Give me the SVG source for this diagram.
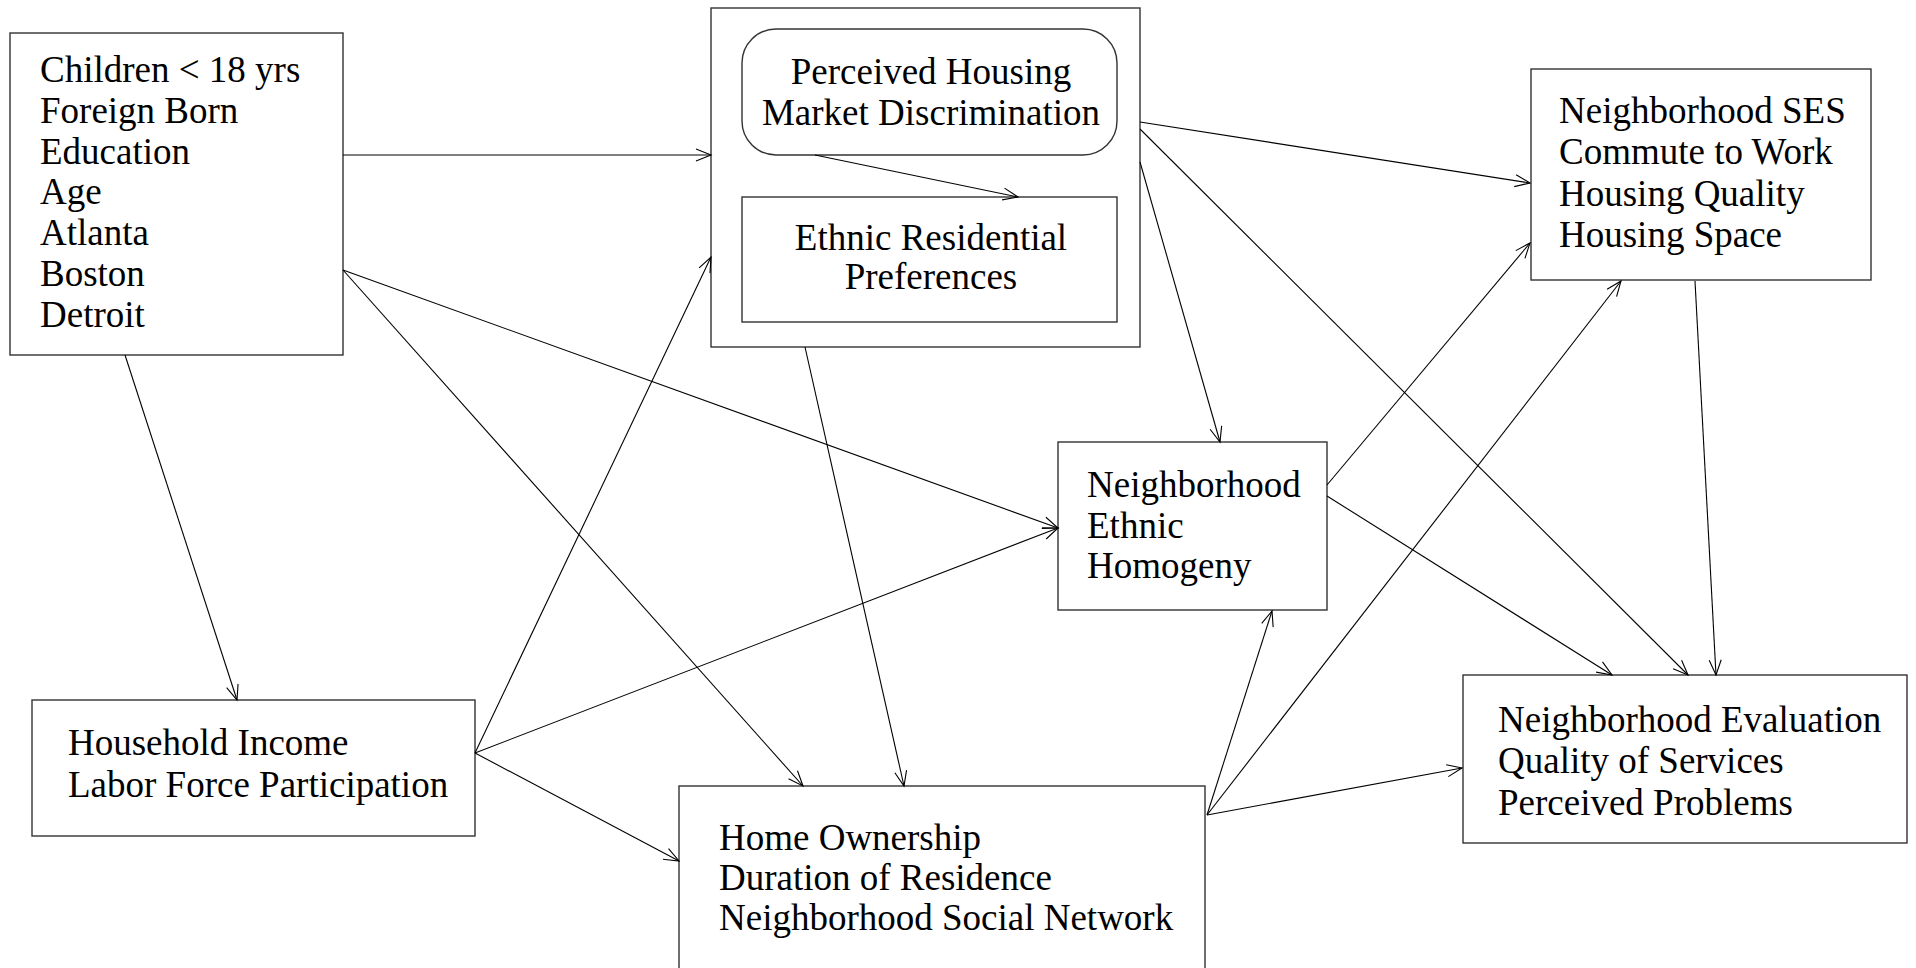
<svg xmlns="http://www.w3.org/2000/svg" width="1916" height="968" viewBox="0 0 1916 968">
<style>
.box{fill:#fff;stroke:#333;stroke-width:1.4}
.t{font-family:"Liberation Serif","Times New Roman",serif;font-size:37px;fill:#000}
.c{text-anchor:middle}
.e{fill:none;stroke:#000;stroke-width:1.1;marker-end:url(#ah)}
</style>
<defs>
<marker id="ah" markerUnits="userSpaceOnUse" markerWidth="20" markerHeight="14" refX="16" refY="7" orient="auto">
<path d="M1,1 L16,7 L1,13" fill="none" stroke="#000" stroke-width="1.1"/>
</marker>
</defs>
<rect width="1916" height="968" fill="#fff"/>
<g id="n-demographics">
<rect class="box" x="10" y="33" width="333" height="322"/>
<text class="t" x="40" y="82">Children &lt; 18 yrs</text>
<text class="t" x="40" y="123">Foreign Born</text>
<text class="t" x="40" y="164">Education</text>
<text class="t" x="40" y="204">Age</text>
<text class="t" x="40" y="245">Atlanta</text>
<text class="t" x="40" y="286">Boston</text>
<text class="t" x="40" y="327">Detroit</text>
</g>
<g id="n-perceptions">
<rect class="box" x="711" y="8" width="429" height="339"/>
</g>
<g id="n-discrimination">
<rect class="box" x="742" y="29" width="375" height="126" rx="34" ry="34"/>
<text class="t c" x="931" y="84">Perceived Housing</text>
<text class="t c" x="931" y="125">Market Discrimination</text>
</g>
<g id="n-preferences">
<rect class="box" x="742" y="197" width="375" height="125"/>
<text class="t c" x="931" y="250">Ethnic Residential</text>
<text class="t c" x="931" y="289">Preferences</text>
</g>
<g id="n-ses">
<rect class="box" x="1531" y="69" width="340" height="211"/>
<text class="t" x="1559" y="123">Neighborhood SES</text>
<text class="t" x="1559" y="164">Commute to Work</text>
<text class="t" x="1559" y="206">Housing Quality</text>
<text class="t" x="1559" y="247">Housing Space</text>
</g>
<g id="n-homogeny">
<rect class="box" x="1058" y="442" width="269" height="168"/>
<text class="t" x="1087" y="497">Neighborhood</text>
<text class="t" x="1087" y="538">Ethnic</text>
<text class="t" x="1087" y="578">Homogeny</text>
</g>
<g id="n-income">
<rect class="box" x="32" y="700" width="443" height="136"/>
<text class="t" x="68" y="755">Household Income</text>
<text class="t" x="68" y="797">Labor Force Participation</text>
</g>
<g id="n-ownership">
<rect class="box" x="679" y="786" width="526" height="190"/>
<text class="t" x="719" y="850">Home Ownership</text>
<text class="t" x="719" y="890">Duration of Residence</text>
<text class="t" x="719" y="930">Neighborhood Social Network</text>
</g>
<g id="n-evaluation">
<rect class="box" x="1463" y="675" width="444" height="168"/>
<text class="t" x="1498" y="732">Neighborhood Evaluation</text>
<text class="t" x="1498" y="773">Quality of Services</text>
<text class="t" x="1498" y="815">Perceived Problems</text>
</g>
<g id="connectors">
<line class="e" x1="343" y1="155" x2="711" y2="155"/>
<line class="e" x1="343" y1="270" x2="1058" y2="528"/>
<line class="e" x1="343" y1="270" x2="803" y2="786"/>
<line class="e" x1="125" y1="355" x2="237" y2="700"/>
<line class="e" x1="475" y1="753" x2="711" y2="257"/>
<line class="e" x1="475" y1="753" x2="1058" y2="528"/>
<line class="e" x1="475" y1="753" x2="679" y2="861"/>
<line class="e" x1="815" y1="155" x2="1018" y2="197"/>
<line class="e" x1="805" y1="347" x2="904" y2="786"/>
<line class="e" x1="1140" y1="122" x2="1530" y2="183"/>
<line class="e" x1="1140" y1="129" x2="1688" y2="675"/>
<line class="e" x1="1140" y1="162" x2="1220" y2="442"/>
<line class="e" x1="1327" y1="485" x2="1530" y2="243"/>
<line class="e" x1="1327" y1="496" x2="1612" y2="675"/>
<line class="e" x1="1207" y1="815" x2="1272" y2="611"/>
<line class="e" x1="1207" y1="815" x2="1621" y2="281"/>
<line class="e" x1="1207" y1="815" x2="1462" y2="768"/>
<line class="e" x1="1695" y1="281" x2="1716" y2="675"/>
</g>
</svg>
